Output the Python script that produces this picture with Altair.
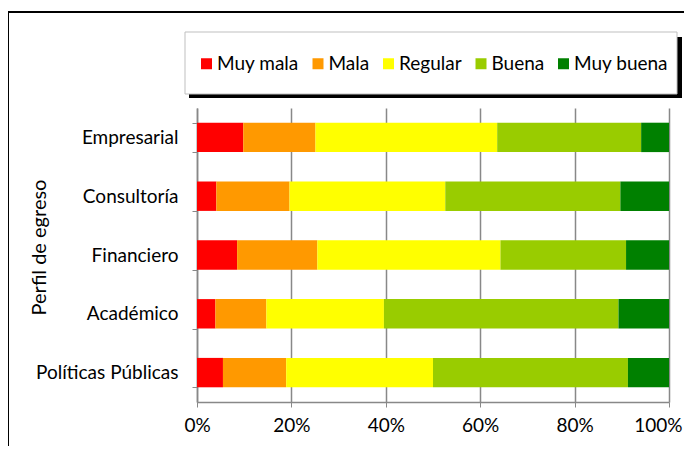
import altair as alt
import pandas as pd

categories = ["Empresarial", "Consultoría", "Financiero", "Académico", "Políticas Públicas"]
levels = ["Muy mala", "Mala", "Regular", "Buena", "Muy buena"]
colors = ["#FF0000", "#FF9900", "#FFFF00", "#99CC00", "#008000"]

muy_mala = [9.8, 4.1, 8.5, 3.9, 5.5]
mala = [15.3, 15.5, 17.0, 10.8, 13.4]
regular = [38.5, 33.0, 38.8, 24.9, 31.1]
buena = [30.5, 37.1, 26.6, 49.7, 41.3]
muy_buena = [5.9, 10.3, 9.1, 10.7, 8.7]

x_ticks = [0, 0.2, 0.4, 0.6, 0.8, 1.0]

series = [muy_mala, mala, regular, buena, muy_buena]
rows = []
for li, (lvl, vals) in enumerate(zip(levels, series)):
    for cat, v in zip(categories, vals):
        rows.append({"perfil": cat, "nivel": lvl, "orden": li, "valor": v})
df = pd.DataFrame(rows)

FONT = "Lato"
one = pd.DataFrame({"k": [0]})

frame = alt.Chart(one).mark_rect(fill=None, stroke="#000000", strokeWidth=2).encode(
    x=alt.value(-189), x2=alt.value(540), y=alt.value(-96), y2=alt.value(380)
)
shadow = alt.Chart(one).mark_rect(fill="#000000").encode(
    x=alt.value(-8), x2=alt.value(485), y=alt.value(-71), y2=alt.value(-10)
)
box = alt.Chart(one).mark_rect(fill="#FFFFFF", stroke="#BFBFBF", strokeWidth=1).encode(
    x=alt.value(-12), x2=alt.value(480), y=alt.value(-76), y2=alt.value(-14)
)

bars = alt.Chart(df).mark_bar().encode(
    y=alt.Y(
        "perfil:N",
        sort=categories,
        scale=alt.Scale(paddingInner=0.5, paddingOuter=0.25),
        axis=alt.Axis(
            title="Perfil de egreso",
            titleFont=FONT,
            titleFontSize=20,
            titleFontWeight="normal",
            titleColor="#000000",
            titleX=-148,
            titleY=139,
            labelFont=FONT,
            labelFontSize=19,
            labelColor="#000000",
            labelPadding=14,
            tickBand="extent",
            tickSize=5,
            tickColor="#888888",
            domainColor="#888888",
            domainWidth=1.5,
        ),
    ),
    x=alt.X(
        "valor:Q",
        stack="normalize",
        scale=alt.Scale(domain=[0, 1], nice=False),
        axis=alt.Axis(
            title=None,
            values=x_ticks,
            format="%",
            labelFont=FONT,
            labelFontSize=19,
            labelColor="#000000",
            labelPadding=9,
            labelFlush=True,
            labelFlushOffset=13,
            tickSize=5,
            tickColor="#888888",
            domainColor="#888888",
            domainWidth=1.5,
            grid=True,
            gridColor="#888888",
            gridWidth=1.5,
        ),
    ),
    color=alt.Color(
        "nivel:N",
        scale=alt.Scale(domain=levels, range=colors),
        legend=alt.Legend(
            title=None,
            orient="none",
            legendX=0,
            legendY=-54,
            direction="horizontal",
            symbolType="square",
            symbolSize=121,
            symbolStrokeWidth=0,
            labelFont=FONT,
            labelFontSize=19,
            labelColor="#000000",
            labelOffset=1,
            columnPadding=9.5,
            padding=0,
            zindex=2,
        ),
    ),
    order=alt.Order("orden:Q"),
)

chart = alt.layer(frame, shadow, box, bars).properties(
    width=472,
    height=294,
    padding={"left": 189, "top": 100, "right": 15, "bottom": 44},
    autosize=alt.AutoSizeParams(type="none"),
    background="#FFFFFF",
).configure_view(stroke=None)

chart.save("out.html", embed_options={"renderer": "svg", "actions": False})
